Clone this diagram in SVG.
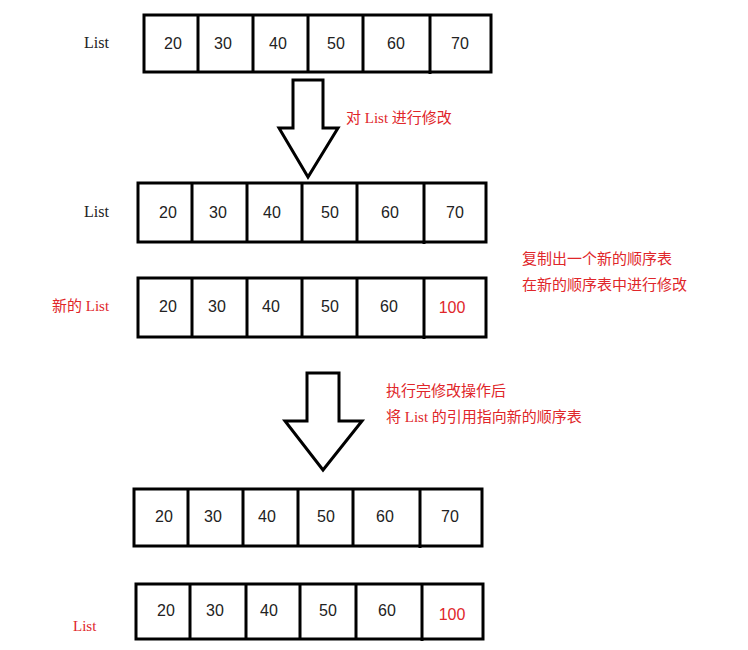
<svg xmlns="http://www.w3.org/2000/svg" width="748" height="650" viewBox="0 0 748 650">
<style>
.c{fill:#fff;stroke:#000;stroke-width:3}
.d{stroke:#000;stroke-width:3}
.n{font-family:"Liberation Sans",sans-serif;font-size:16px;fill:#222;text-anchor:middle}
.r{fill:#e0262a}
.l{font-family:"Liberation Serif","Noto Sans CJK SC",serif;font-size:16px;fill:#222}
.lr{font-family:"Liberation Serif","Noto Sans CJK SC",serif;font-size:15px;fill:#e0262a}
.a{fill:#fff;stroke:#000;stroke-width:3;stroke-linejoin:miter}
</style>
<rect width="748" height="650" fill="#fff"/>
<g id="list1">
<rect class="c" x="144" y="15" width="347" height="57"/>
<path class="d" d="M198 15V72M253 15V72M308 15V72M363 15V72M430 15V74"/>
<g class="n"><text x="173" y="49">20</text><text x="223" y="49">30</text><text x="278" y="49">40</text><text x="336" y="49">50</text><text x="396" y="49">60</text><text x="460" y="49">70</text></g>
<text class="l" x="84" y="48">List</text>
</g>
<g id="list2">
<rect class="c" x="138" y="183" width="348" height="59"/>
<path class="d" d="M192 183V242M247 183V242M302 183V242M357 183V242M424 183V244"/>
<g class="n"><text x="168" y="218">20</text><text x="218" y="218">30</text><text x="272" y="218">40</text><text x="330" y="218">50</text><text x="390" y="218">60</text><text x="455" y="218">70</text></g>
<text class="l" x="84" y="217">List</text>
</g>
<g id="list3">
<rect class="c" x="138" y="278" width="348" height="59"/>
<path class="d" d="M192 278V337M247 278V337M302 278V337M357 278V337M424 278V339"/>
<g class="n"><text x="168" y="312">20</text><text x="217" y="312">30</text><text x="271" y="312">40</text><text x="330" y="312">50</text><text x="389" y="312">60</text><text x="452" y="313" class="r">100</text></g>
<text class="lr" x="52" y="311">新的 List</text>
</g>
<g id="list4">
<rect class="c" x="134" y="489" width="348" height="57"/>
<path class="d" d="M188 489V546M243 489V546M298 489V546M353 489V546M420 489V548"/>
<g class="n"><text x="164" y="522">20</text><text x="213" y="522">30</text><text x="267" y="522">40</text><text x="326" y="522">50</text><text x="385" y="522">60</text><text x="450" y="522">70</text></g>
</g>
<g id="list5">
<rect class="c" x="136" y="584" width="347" height="55"/>
<path class="d" d="M190 584V639M246 584V639M300 584V639M356 584V639M422 584V641"/>
<g class="n"><text x="166" y="616">20</text><text x="215" y="616">30</text><text x="269" y="616">40</text><text x="328" y="616">50</text><text x="387" y="616">60</text><text x="452" y="620" class="r">100</text></g>
<text class="lr" x="73" y="631">List</text>
</g>
<g id="connectors">
<path class="a" d="M293 80H323V128H338L308 177L279 128H293Z"/>
<path class="a" d="M307 373H339V421H362L323 470L285 421H307Z"/>
</g>
<g id="labels">
<text class="lr" x="346" y="123">对 List 进行修改</text>
<text class="lr" x="522" y="264">复制出一个新的顺序表</text>
<text class="lr" x="522" y="290">在新的顺序表中进行修改</text>
<text class="lr" x="386" y="396">执行完修改操作后</text>
<text class="lr" x="386" y="422">将 List 的引用指向新的顺序表</text>
</g>
</svg>
